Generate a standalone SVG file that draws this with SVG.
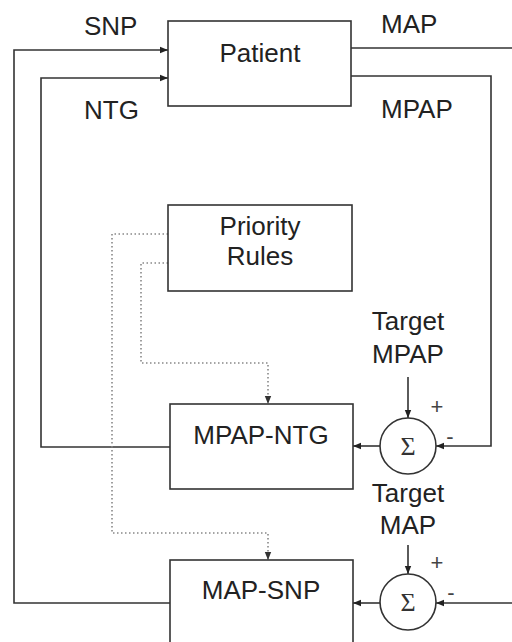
<svg xmlns="http://www.w3.org/2000/svg" width="512" height="642" viewBox="0 0 512 642">
  <style>
    .box { fill: #fff; stroke: #333; stroke-width: 1.6; }
    .wire { fill: none; stroke: #333; stroke-width: 1.6; }
    .dot { fill: none; stroke: #888; stroke-width: 1.6; stroke-dasharray: 1.5 2.5; }
    .lbl { font-family: "Liberation Sans", Arial, sans-serif; font-size: 26px; fill: #222; }
    .sig { font-family: "Liberation Serif", "Times New Roman", serif; font-size: 26px; fill: #333; }
    .sign { font-family: "Liberation Sans", Arial, sans-serif; font-size: 22px; fill: #444; }
  </style>
  <defs>
    <marker id="arr" viewBox="0 0 10 10" refX="10" refY="5" markerWidth="8" markerHeight="8" markerUnits="userSpaceOnUse" orient="auto">
      <path d="M0,1 L10,5 L0,9 z" fill="#222"/>
    </marker>
    <marker id="arrd" viewBox="0 0 10 10" refX="10" refY="5" markerWidth="8" markerHeight="8" markerUnits="userSpaceOnUse" orient="auto">
      <path d="M0,1 L10,5 L0,9 z" fill="#333"/>
    </marker>
  </defs>

  <rect width="512" height="642" fill="#fff"/>

  <!-- connectors -->
  <g id="connectors">
    <!-- SNP feedback from MAP-SNP to Patient -->
    <polyline class="wire" points="170,603 14,603 14,50 168,50" marker-end="url(#arr)"/>
    <!-- NTG feedback from MPAP-NTG to Patient -->
    <polyline class="wire" points="170,447 41,447 41,78 168,78" marker-end="url(#arr)"/>
    <!-- MAP output -->
    <line class="wire" x1="351" y1="48" x2="512" y2="48"/>
    <!-- MAP measured into lower summer -->
    <line class="wire" x1="512" y1="603" x2="436" y2="603" marker-end="url(#arr)"/>
    <!-- MPAP output into upper summer -->
    <polyline class="wire" points="351,76 491,76 491,446 436,446" marker-end="url(#arr)"/>
    <!-- summer outputs -->
    <line class="wire" x1="380" y1="446" x2="353" y2="446" marker-end="url(#arr)"/>
    <line class="wire" x1="380" y1="603" x2="353" y2="603" marker-end="url(#arr)"/>
    <!-- targets -->
    <line class="wire" x1="408" y1="377" x2="408" y2="418" marker-end="url(#arr)"/>
    <line class="wire" x1="408" y1="545" x2="408" y2="574" marker-end="url(#arr)"/>
    <!-- priority rule signals -->
    <polyline class="dot" points="168,234 112,234 112,533 268,533 268,560" marker-end="url(#arrd)"/>
    <polyline class="dot" points="168,263 141,263 141,363 268,363 268,404" marker-end="url(#arrd)"/>
  </g>

  <g id="patient">
    <rect class="box" x="168" y="21" width="183" height="85"/>
    <text class="lbl" x="260" y="62" text-anchor="middle">Patient</text>
  </g>

  <g id="priority-rules">
    <rect class="box" x="168" y="205" width="184" height="86"/>
    <text class="lbl" x="260" y="235" text-anchor="middle">Priority</text>
    <text class="lbl" x="260" y="265" text-anchor="middle">Rules</text>
  </g>

  <g id="mpap-ntg">
    <rect class="box" x="170" y="404" width="183" height="85"/>
    <text class="lbl" x="261" y="444" text-anchor="middle">MPAP-NTG</text>
  </g>

  <g id="map-snp">
    <rect class="box" x="170" y="560" width="183" height="100"/>
    <text class="lbl" x="261" y="599" text-anchor="middle">MAP-SNP</text>
  </g>

  <g id="sum-mpap">
    <circle class="box" cx="408" cy="446" r="28"/>
    <text class="sig" x="408" y="455" text-anchor="middle">Σ</text>
    <text class="sign" x="437" y="414" text-anchor="middle">+</text>
    <text class="sign" x="450" y="444" text-anchor="middle">-</text>
  </g>

  <g id="sum-map">
    <circle class="box" cx="408" cy="602" r="28"/>
    <text class="sig" x="408" y="611" text-anchor="middle">Σ</text>
    <text class="sign" x="437" y="570" text-anchor="middle">+</text>
    <text class="sign" x="451" y="600" text-anchor="middle">-</text>
  </g>

  <g id="labels">
    <text class="lbl" x="84" y="35">SNP</text>
    <text class="lbl" x="381" y="33">MAP</text>
    <text class="lbl" x="84" y="119">NTG</text>
    <text class="lbl" x="381" y="118">MPAP</text>
    <text class="lbl" x="408" y="330" text-anchor="middle">Target</text>
    <text class="lbl" x="408" y="363" text-anchor="middle">MPAP</text>
    <text class="lbl" x="408" y="502" text-anchor="middle">Target</text>
    <text class="lbl" x="408" y="534" text-anchor="middle">MAP</text>
  </g>
</svg>
